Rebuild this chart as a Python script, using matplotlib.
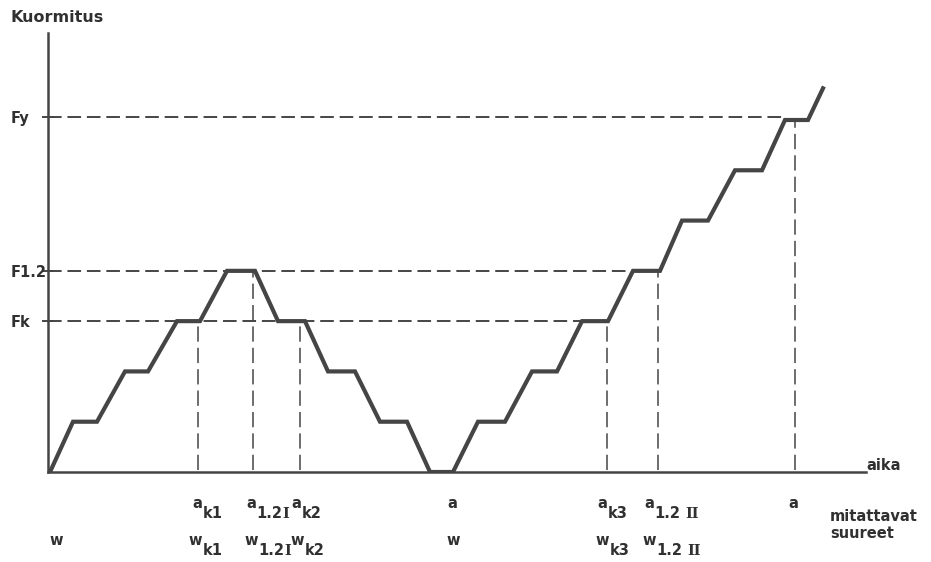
import matplotlib.pyplot as plt
from matplotlib.transforms import blended_transform_factory

# kuormituksen kulku (aika, kuormitus)
aika = [0.2, 2.5, 4.9, 7.7, 10.0, 12.9, 15.2, 17.9, 20.7, 23.0, 25.7, 28.0, 30.7,
        33.2, 35.9, 38.2, 40.5, 43.0, 45.7, 48.4, 50.9, 53.4, 56.0, 58.5, 61.2,
        63.4, 66.0, 68.7, 71.4, 73.7, 76.0, 77.5]
kuorma = [0, 1, 1, 2, 2, 3, 3, 4, 4, 3, 3, 2, 2,
          1, 1, 0, 0, 1, 1, 2, 2, 3, 3, 4, 4,
          5, 5, 6, 6, 7, 7, 7.63]

# tasot
tasot = [3, 4, 7.05]
taso_nimet = ['Fk', 'F1.2', 'Fy']
taso_loppu = [56.0, 61.2, 73.7]

# mittauskohdat (pystykatkoviivat)
mitta_x = [15.0, 20.5, 25.2, 55.9, 61.0, 74.7]
mitta_y = [3, 4, 3, 3, 4, 7]

# mitattavat suureet akselin alla
a_x = [14.4, 19.8, 24.3, 39.9, 54.9, 59.6, 74.0]
a_ala = ['k1', '1.2', 'k2', '', 'k3', '1.2', '']
a_room = ['', 'I', '', '', '', 'II', '']
w_x = [0.1, 14.0, 19.6, 24.2, 39.8, 54.7, 59.4]
w_ala = ['', 'k1', '1.2', 'k2', '', 'k3', '1.2']
w_room = ['', '', 'I', '', '', '', 'II']

col = '#454545'
tcol = '#303030'

fig = plt.figure(figsize=(9.31, 5.62), dpi=100)
ax = fig.add_axes([48 / 931, 90 / 562, 818 / 931, 439 / 562])

# katkoviivat
for y, x1 in zip(tasot, taso_loppu):
    ax.plot([0, x1], [y, y], color=col, lw=1.4, dashes=(7, 3), zorder=1)
for x, y in zip(mitta_x, mitta_y):
    ax.plot([x, x], [0.04, y], color=col, lw=1.1, dashes=(10, 4), zorder=1)

ax.plot(aika, kuorma, color=col, lw=3.0, solid_joinstyle='miter', zorder=3)

ax.set_xlim(0, 81.8)
ax.set_ylim(0, 8.73)
for s in ['top', 'right']:
    ax.spines[s].set_visible(False)
for s in ['left', 'bottom']:
    ax.spines[s].set_linewidth(1.8)
    ax.spines[s].set_color(col)
ax.set_xticks([])
ax.set_yticks(tasot)
ax.set_yticklabels(taso_nimet, fontsize=10.5, fontweight='bold', color=tcol, ha='left')
ax.tick_params(axis='y', direction='inout', length=9, width=1.4, color=col, pad=22.5)

fig.text(10 / 931, 1 - 18 / 562, 'Kuormitus', fontsize=11.5, fontweight='bold',
         color=tcol, va='center', ha='left')
ax.text(1.0, 0.004, 'aika', transform=ax.transAxes, fontsize=10.5, fontweight='bold',
        color=tcol, va='baseline', ha='left')
fig.text(830 / 931, 1 - 525 / 562, 'mitattavat\nsuureet', fontsize=10.5, fontweight='bold',
         color=tcol, va='center', ha='left', linespacing=1.1)

tr = blended_transform_factory(ax.transData, fig.transFigure)


def merkki(x, y, paa, ala, roomalainen, dx):
    ax.text(x, y, paa, transform=tr, fontsize=10.5, fontweight='bold', color=tcol,
            ha='left', va='baseline')
    if ala:
        ax.annotate(ala, xy=(x, y), xycoords=tr, xytext=(dx, -7), textcoords='offset points',
                    fontsize=10.5, fontweight='bold', color=tcol, ha='left', va='baseline')
    if roomalainen:
        rx = dx + 18.5 + (0 if roomalainen == 'I' else 4)
        ax.annotate(roomalainen, xy=(x, y), xycoords=tr, xytext=(rx, -7),
                    textcoords='offset points', fontsize=10.5, fontweight='bold',
                    family='DejaVu Serif', color=tcol, ha='left', va='baseline')


rivi1 = 1 - 508 / 562
rivi2 = 1 - 545 / 562
for x, s, r in zip(a_x, a_ala, a_room):
    merkki(x, rivi1, 'a', s, r, 7.5)
for x, s, r in zip(w_x, w_ala, w_room):
    merkki(x, rivi2, 'w', s, r, 10.5)

plt.savefig('out.png', dpi=100)
